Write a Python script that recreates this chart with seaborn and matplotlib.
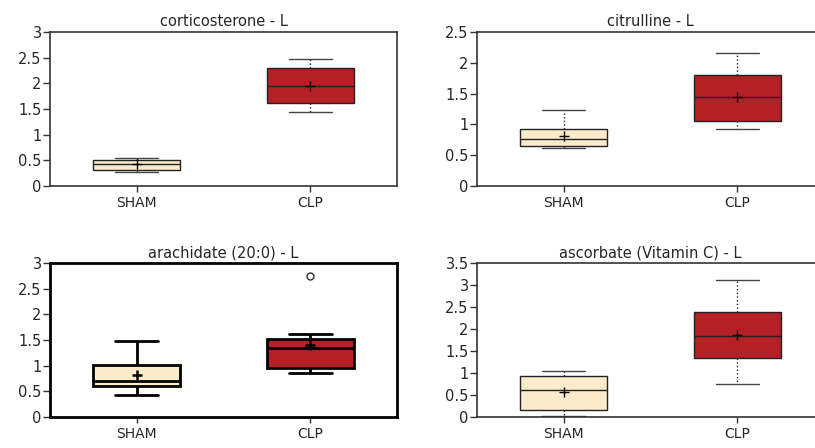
import pandas as pd
import matplotlib
matplotlib.use("Agg")
import matplotlib.pyplot as plt
import seaborn as sns

# оценённые по картинке значения отдельных образцов (9 на группу)
groups = ["SHAM", "CLP"]
titles = ["corticosterone - L", "citrulline - L",
          "arachidate (20:0) - L", "ascorbate (Vitamin C) - L"]
ymax = [3, 2.5, 3, 3.5]

cort_sham = [0.27, 0.30, 0.32, 0.40, 0.42, 0.48, 0.50, 0.54, 0.55]
cort_clp = [1.45, 1.52, 1.62, 1.77, 1.94, 2.11, 2.29, 2.38, 2.47]
citr_sham = [0.61, 0.63, 0.65, 0.70, 0.76, 0.84, 0.92, 0.94, 1.24]
citr_clp = [0.92, 0.98, 1.05, 1.25, 1.44, 1.52, 1.81, 1.92, 2.16]
arach_sham = [0.43, 0.55, 0.61, 0.66, 0.70, 0.86, 1.01, 1.08, 1.48]
arach_clp = [0.85, 0.90, 0.95, 1.20, 1.34, 1.47, 1.52, 1.62, 2.75]
ascor_sham = [0.02, 0.08, 0.15, 0.40, 0.61, 0.80, 0.94, 1.00, 1.04]
ascor_clp = [0.76, 1.10, 1.34, 1.60, 1.84, 2.09, 2.38, 2.60, 3.12]

panels = [(cort_sham, cort_clp), (citr_sham, citr_clp),
          (arach_sham, arach_clp), (ascor_sham, ascor_clp)]

colors = {"SHAM": "#FCEBCB", "CLP": "#B32026"}

sns.set_style("white")
plt.rcParams['font.family'] = ['DejaVu Sans']

fig = plt.figure(figsize=(8.15, 4.48), dpi=100)
W, H = 815, 448
boxes = [(50, 32), (477, 32), (50, 263), (477, 263)]

for i, (sham, clp) in enumerate(panels):
    x0, y0 = boxes[i]
    ax = fig.add_axes([x0 / W, (H - y0 - 154) / H, 347 / W, 154 / H])
    df = pd.DataFrame({
        "group": ["SHAM"] * len(sham) + ["CLP"] * len(clp),
        "value": sham + clp,
    })
    bold = (i == 2)
    lw = 2.0 if bold else 1.0
    lc = "black" if bold else "#222222"
    sns.boxplot(data=df, x="group", y="value", hue="group", order=groups,
                palette=colors, saturation=1, legend=False, width=0.5, ax=ax,
                linewidth=lw, linecolor=lc, showmeans=True, whis=1.5,
                whiskerprops={"linestyle": "-" if bold else ":", "color": lc},
                capprops={"linestyle": "-", "color": "#444444" if not bold else lc},
                medianprops={"color": lc, "linewidth": lw},
                meanprops={"marker": "+", "markeredgecolor": "black",
                           "markersize": 7, "markeredgewidth": 1.8 if bold else 1.0},
                flierprops={"marker": "o", "markerfacecolor": "white",
                            "markeredgecolor": "#333333", "markersize": 5})
    ax.set_xlim(-0.5, 1.5)
    ax.set_ylim(0, ymax[i])
    ticks = [t * 0.5 for t in range(int(ymax[i] * 2) + 1)]
    ax.set_yticks(ticks)
    ax.set_yticklabels(["%g" % t for t in ticks])
    ax.set_xlabel("")
    ax.set_ylabel("")
    ax.set_title(titles[i], fontsize=10.5, pad=4)
    ax.tick_params(axis="y", labelsize=10.5, length=5, width=1,
                   left=True, color="#333333", pad=1)
    ax.tick_params(axis="x", labelsize=10, length=4, width=1,
                   bottom=True, color="#333333", pad=3)
    for s in ax.spines.values():
        s.set_color("black" if bold else "#333333")
        s.set_linewidth(2.0 if bold else 1.2)

fig.savefig("out.png", dpi=100)
